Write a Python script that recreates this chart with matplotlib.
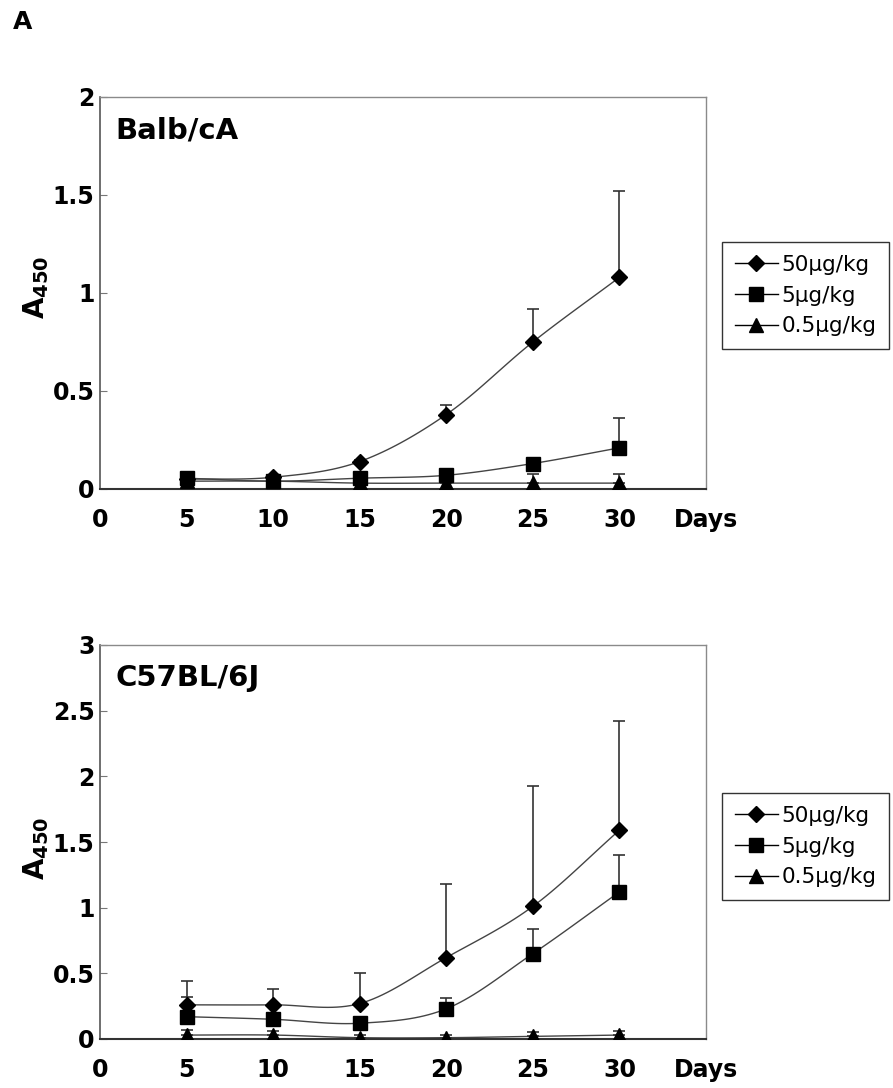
import numpy as np
import matplotlib
matplotlib.use("Agg")
import matplotlib.pyplot as plt
from matplotlib.lines import Line2D

plt.rcParams['font.family'] = ['DejaVu Sans']
plt.rcParams['mathtext.fontset'] = 'dejavusans'

days = [5, 10, 15, 20, 25, 30]
doses = ["50\u03bcg/kg", "5\u03bcg/kg", "0.5\u03bcg/kg"]
markers = ['D', 's', '^']
msizes = [8.5, 10, 10.5]

# Balb/cA
balb_50 = [0.05, 0.06, 0.14, 0.38, 0.75, 1.08]
balb_50_err = [0.01, 0.01, 0.01, 0.05, 0.17, 0.44]
balb_5 = [0.055, 0.04, 0.055, 0.07, 0.13, 0.21]
balb_5_err = [0.01, 0.01, 0.01, 0.01, 0.02, 0.15]
balb_05 = [0.04, 0.04, 0.03, 0.03, 0.03, 0.03]
balb_05_err = [0.01, 0.01, 0.01, 0.01, 0.045, 0.045]

# C57BL/6J
c57_50 = [0.26, 0.26, 0.27, 0.62, 1.01, 1.59]
c57_50_err = [0.18, 0.12, 0.23, 0.56, 0.92, 0.83]
c57_5 = [0.17, 0.15, 0.12, 0.23, 0.65, 1.12]
c57_5_err = [0.15, 0.04, 0.03, 0.08, 0.19, 0.28]
c57_05 = [0.03, 0.03, 0.01, 0.01, 0.02, 0.03]
c57_05_err = [0.04, 0.03, 0.02, 0.02, 0.03, 0.03]

xtick_pos = [0, 5, 10, 15, 20, 25, 30, 35]
xtick_lab = ["0", "5", "10", "15", "20", "25", "30", "Days"]


def smooth(x, y, n=20):
    # Catmull-Rom curve through the points, like Excel's smoothed line
    x = np.asarray(x, float)
    y = np.asarray(y, float)
    px = np.concatenate([[2 * x[0] - x[1]], x, [2 * x[-1] - x[-2]]])
    py = np.concatenate([[2 * y[0] - y[1]], y, [2 * y[-1] - y[-2]]])
    xs, ys = [], []
    t = np.linspace(0, 1, n)
    for i in range(1, len(px) - 2):
        for p, out in ((px, xs), (py, ys)):
            p0, p1, p2, p3 = p[i - 1], p[i], p[i + 1], p[i + 2]
            out.extend(0.5 * (2 * p1 + (-p0 + p2) * t
                              + (2 * p0 - 5 * p1 + 4 * p2 - p3) * t ** 2
                              + (-p0 + 3 * p1 - 3 * p2 + p3) * t ** 3))
    return xs, ys


def panel(ax, series, errs, ymax, label):
    for vals, err, m, ms in zip(series, errs, markers, msizes):
        sx, sy = smooth(days, vals)
        ax.plot(sx, sy, color='#444444', lw=1.0, zorder=2)
        ax.errorbar(days, vals, yerr=[np.zeros(len(err)), err], fmt='none',
                    ecolor='#333333', elinewidth=1.2, capsize=4.5, capthick=1.2, zorder=2)
        ax.plot(days, vals, linestyle='none', marker=m, ms=ms, color='black', zorder=3)
    ax.set_xlim(0, 35)
    ax.set_ylim(0, ymax)
    ax.set_yticks(np.arange(0, ymax + 0.01, 0.5))
    ax.set_yticklabels([("%g" % v) for v in np.arange(0, ymax + 0.01, 0.5)])
    ax.set_xticks(xtick_pos)
    ax.set_xticklabels(xtick_lab)
    ax.tick_params(axis='y', direction='in', length=5, width=0.8, color='#777777',
                   labelsize=17, pad=4)
    ax.tick_params(axis='x', length=0, labelsize=17, pad=14)
    for t in ax.get_xticklabels() + ax.get_yticklabels():
        t.set_fontweight('bold')
    for s in ['top', 'right']:
        ax.spines[s].set_color('#8a8a8a')
        ax.spines[s].set_linewidth(1.0)
    ax.spines['left'].set_color('#555555')
    ax.spines['bottom'].set_color('#333333')
    ax.spines['left'].set_linewidth(1.2)
    ax.spines['bottom'].set_linewidth(1.5)
    ax.text(0.025, 0.915, label, transform=ax.transAxes, fontsize=21,
            fontweight='bold', va='center', ha='left')


W, H = 893, 1088
fig = plt.figure(figsize=(W / 100, H / 100), dpi=100)

ax1 = fig.add_axes([100 / W, 1 - 489 / H, 606 / W, 392 / H])
panel(ax1, [balb_50, balb_5, balb_05], [balb_50_err, balb_5_err, balb_05_err], 2, "Balb/cA")

ax2 = fig.add_axes([100 / W, 1 - 1039 / H, 606 / W, 394 / H])
panel(ax2, [c57_50, c57_5, c57_05], [c57_50_err, c57_5_err, c57_05_err], 3, "C57BL/6J")

fig.text(13 / W, 1 - 22 / H, "A", fontsize=18, fontweight='bold', va='center', ha='left')
fig.text(36 / W, 1 - 287 / H, r"$\mathbf{A}_{\mathbf{450}}$", fontsize=20, rotation=90,
         va='center', ha='center')
fig.text(36 / W, 1 - 848 / H, r"$\mathbf{A}_{\mathbf{450}}$", fontsize=20, rotation=90,
         va='center', ha='center')

handles = [Line2D([0], [0], color='black', lw=1.0, marker=m, ms=ms * 0.95, markerfacecolor='black')
           for m, ms in zip(markers, msizes)]
for top in (242, 793):
    leg = fig.legend(handles, doses, loc='upper left', bbox_to_anchor=(722 / W, 1 - top / H),
                     fontsize=15.5, frameon=True, fancybox=False, edgecolor='black',
                     handlelength=2.0, handletextpad=0.15, labelspacing=0.5,
                     borderpad=0.6, borderaxespad=0)
    leg.get_frame().set_linewidth(1.0)

fig.savefig("out.png", dpi=100)
